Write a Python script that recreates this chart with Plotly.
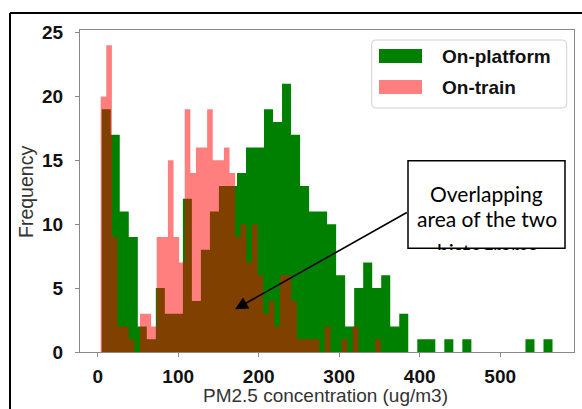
import numpy as np
import plotly.graph_objects as go

# ---- data ----
platform_counts = [19, 17, 11, 9, 2, 1, 5, 3, 3, 12,
                   4, 8, 11, 13, 13, 14, 16, 16, 19, 18,
                   21, 17, 13, 11, 11, 10, 6, 2, 5, 7,
                   5, 6, 2, 3, 0, 1, 1, 0, 1, 0,
                   1, 0, 0, 0, 0, 0, 0, 1, 0, 1]
train_counts = [20, 24, 9, 2, 2, 1, 0, 3, 3, 2,
                9, 9, 15, 9, 7, 19, 14, 16, 16, 19,
                15, 15, 16, 14, 9, 10, 7, 10, 6, 3,
                4, 2, 6, 6, 4, 1, 1, 1, 1, 0,
                2, 0, 0, 1, 0, 2, 0, 0, 0, 1]
platform_range = [5.0, 565.0]
train_range = [3.7, 351.7]
x_ticks = [0, 100, 200, 300, 400, 500]
y_ticks = [0, 5, 10, 15, 20, 25]

# ---- bins ----
edges_p = np.linspace(platform_range[0], platform_range[1], len(platform_counts) + 1)
edges_t = np.linspace(train_range[0], train_range[1], len(train_counts) + 1)

W, H = 582, 409
L, R, T, B = 80, 8, 30, 57
PW, PH = W - L - R, H - T - B


def fx(px):
    return (px - L) / PW


def fy(py):
    return (H - B - py) / PH


def step_xy(edges, counts):
    # outline of a filled histogram: one step per bin (drawn with line_shape 'hv')
    xs = list(edges)
    ys = list(counts) + [0]
    return xs, ys


fig = go.Figure()
xp, yp = step_xy(edges_p, platform_counts)
xt, yt = step_xy(edges_t, train_counts)
fig.add_scatter(x=[edges_p[0]] + xp, y=[0] + yp, mode="lines", line_shape="hv", name="On-platform",
                line=dict(width=0, color="#008000"), fill="tozeroy", fillcolor="#008000",
                hoverinfo="skip")
fig.add_scatter(x=[edges_t[0]] + xt, y=[0] + yt, mode="lines", line_shape="hv", name="On-train",
                line=dict(width=0, color="rgba(255,0,0,0.5)"), fill="tozeroy",
                fillcolor="rgba(255,0,0,0.5)", hoverinfo="skip")

axis_common = dict(showgrid=False, zeroline=False, showline=True, mirror=True,
                   linecolor="#8a8a8a", linewidth=1, ticks="outside", ticklen=4,
                   tickcolor="#8a8a8a",
                   tickfont=dict(family="Liberation Sans", size=19, color="#111", weight="bold"))

fig.update_layout(
    width=W, height=H, showlegend=False,
    margin=dict(l=L, r=R, t=T, b=B, pad=0),
    plot_bgcolor="white", paper_bgcolor="white",
    xaxis=dict(range=[-22, 591.7], tickvals=x_ticks, ticklabelstandoff=3, **axis_common),
    yaxis=dict(range=[0, 25.2], tickvals=y_ticks, ticklabelstandoff=8, **axis_common),
)


def rounded_path(x0, y0, x1, y1, r):
    pts = [
        f"M {fx(x0 + r)},{fy(y0)}",
        f"L {fx(x1 - r)},{fy(y0)}",
        f"Q {fx(x1)},{fy(y0)} {fx(x1)},{fy(y0 + r)}",
        f"L {fx(x1)},{fy(y1 - r)}",
        f"Q {fx(x1)},{fy(y1)} {fx(x1 - r)},{fy(y1)}",
        f"L {fx(x0 + r)},{fy(y1)}",
        f"Q {fx(x0)},{fy(y1)} {fx(x0)},{fy(y1 - r)}",
        f"L {fx(x0)},{fy(y0 + r)}",
        f"Q {fx(x0)},{fy(y0)} {fx(x0 + r)},{fy(y0)} Z",
    ]
    return " ".join(pts)


shapes = [
    # outer frame (left and top)
    dict(type="line", xref="paper", yref="paper", x0=fx(10), x1=fx(10), y0=fy(13), y1=fy(H + 5),
         line=dict(color="black", width=2)),
    dict(type="line", xref="paper", yref="paper", x0=fx(10), x1=fx(W + 5), y0=fy(13), y1=fy(13),
         line=dict(color="black", width=2)),
    # legend frame
    dict(type="path", xref="paper", yref="paper", path=rounded_path(371.7, 40, 566.7, 108, 4),
         line=dict(color="#d0d0d0", width=1), fillcolor="rgba(255,255,255,0.8)", layer="above"),
    dict(type="rect", xref="paper", yref="paper", x0=fx(379), x1=fx(422), y0=fy(49), y1=fy(63),
         line_width=0, fillcolor="#008000", layer="above"),
    dict(type="rect", xref="paper", yref="paper", x0=fx(379), x1=fx(422), y0=fy(80), y1=fy(94),
         line_width=0, fillcolor="rgba(255,0,0,0.5)", layer="above"),
    # callout box
    dict(type="rect", xref="paper", yref="paper", x0=fx(408), x1=fx(565), y0=fy(160.7), y1=fy(248.3),
         line=dict(color="black", width=1.5), fillcolor="white", layer="above"),
]

box_font = dict(family="Lato", size=21, color="black")
annotations = [
    dict(text="On-platform", x=fx(440), y=fy(56.5), xanchor="left", yanchor="middle",
         font=dict(family="Liberation Sans", size=19, color="#111", weight="bold")),
    dict(text="On-train", x=fx(440), y=fy(87.5), xanchor="left", yanchor="middle",
         font=dict(family="Liberation Sans", size=19, color="#111", weight="bold")),
    dict(text="PM2.5 concentration (ug/m3)", x=fx(325), y=fy(395), xanchor="center", yanchor="middle",
         font=dict(family="Liberation Sans", size=19, color="#333")),
    dict(text="Frequency", x=fx(26), y=fy(192), xanchor="center", yanchor="middle", textangle=-90,
         font=dict(family="Liberation Sans", size=19.5, color="#333")),
    dict(text="Overlapping", x=fx(486.5), y=fy(193.7), xanchor="center", yanchor="middle", font=box_font),
    dict(text="area of the two", x=fx(486.5), y=fy(218.7), xanchor="center", yanchor="middle", font=box_font),
    dict(text="histograms", x=fx(486.5), y=fy(251.7), xanchor="center", yanchor="middle", font=box_font),
    # white mask clipping the third line at the box edge
    dict(text=" ", x=fx(487), y=fy(258), xanchor="center", yanchor="middle", width=170, height=17,
         bgcolor="white", borderpad=0, borderwidth=0, font=dict(size=4)),
    # arrow
    dict(text="", x=fx(235), y=fy(309.3), ax=173.3, ay=-97.6, showarrow=True,
         arrowhead=2, arrowsize=1.6, arrowwidth=1.6, arrowcolor="black"),
]
for a in annotations:
    a.setdefault("xref", "paper")
    a.setdefault("yref", "paper")
    a.setdefault("showarrow", False)

fig.update_layout(shapes=shapes, annotations=annotations)
# remove the browser's default 8px page margin so the figure sits at the window origin
fig.write_html("out.html", config={"displayModeBar": False},
               post_script="document.body.style.margin='0px';")
